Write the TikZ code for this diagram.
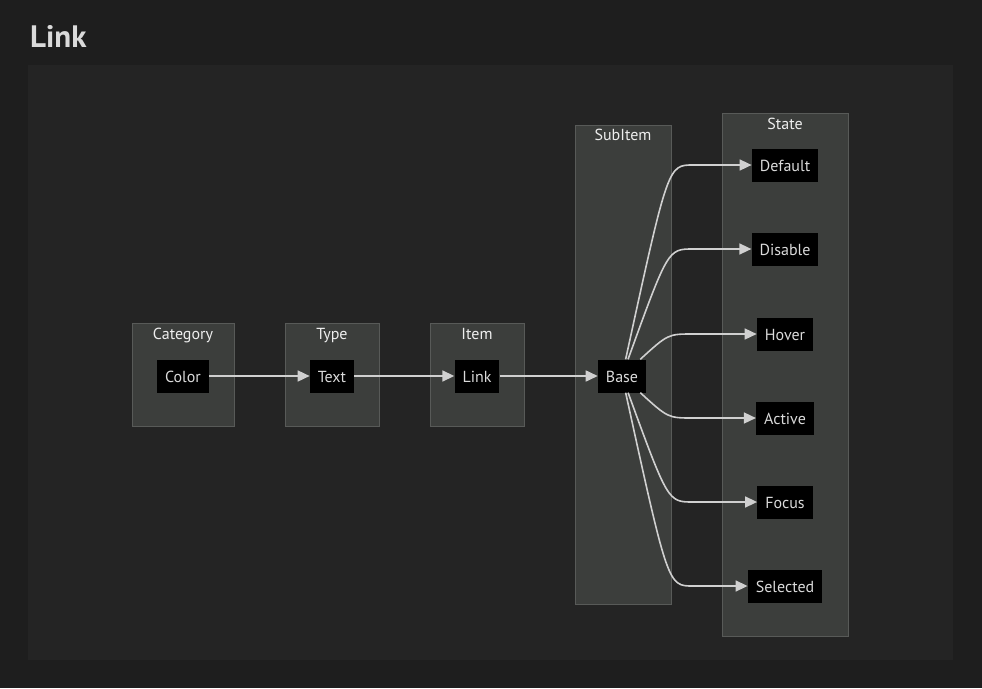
\documentclass[tikz,border=0pt]{standalone}
\usepackage{fontspec}
\setmainfont{PT Sans}
\usetikzlibrary{arrows.meta,positioning}
\definecolor{Page}{HTML}{1E1E1E}
\definecolor{Panel}{HTML}{242424}
\definecolor{Group}{HTML}{3C3E3C}
\definecolor{GroupLine}{HTML}{585A58}
\definecolor{Ink}{HTML}{DADADA}
\definecolor{Head}{HTML}{EEEEEE}
\definecolor{Edge}{HTML}{D0D0D0}

\begin{document}
\begin{tikzpicture}[
  x=1pt,y=-1pt,
  grp/.style={draw=GroupLine,fill=Group,line width=1pt,inner sep=0pt},
  glabel/.style={text=Head,font=\fontsize{16}{19}\selectfont,inner sep=0pt,text height=11pt,text depth=3pt},
  item/.style={fill=black,text=Ink,font=\fontsize{16}{19}\selectfont,inner xsep=8pt,inner ysep=0pt,
    text height=13pt,text depth=0pt,minimum height=33pt},
  arrow/.style={-{Triangle[length=12pt,width=11pt]},line width=1.6pt,color=Edge}
]
  \fill[Page] (0,0) rectangle (982,688);
  \fill[Panel] (28,65) rectangle (953,660);
  \node[anchor=west,text=Ink,font=\fontsize{31}{35}\selectfont\bfseries,inner sep=0pt] (title) at (30,36) {Link};

  \node[grp,minimum width=102pt,minimum height=103pt] (gcat) at (183,374.5) {};
  \node[grp,minimum width=94pt,minimum height=103pt] (gtype) at (332,374.5) {};
  \node[grp,minimum width=94pt,minimum height=103pt] (gitem) at (477,374.5) {};
  \node[grp,minimum width=96pt,minimum height=479pt] (gsub) at (623,364.5) {};
  \node[grp,minimum width=126pt,minimum height=523pt] (gstate) at (785,374.5) {};

  \node[glabel] (lcat) at ([yshift=-12.5pt]gcat.north) {Category};
  \node[glabel] (ltype) at ([yshift=-12.5pt]gtype.north) {Type};
  \node[glabel] (litem) at ([yshift=-12.5pt]gitem.north) {Item};
  \node[glabel] (lsub) at ([yshift=-11.5pt]gsub.north) {SubItem};
  \node[glabel] (lstate) at ([yshift=-12.5pt]gstate.north) {State};

  \node[item] (color) at (183,376) {Color};
  \node[item] (text) at (332,376) {Text};
  \node[item] (link) at (477,376) {Link};
  \node[item] (base) at (622,376) {Base};

  \node[item] (dflt) at (785,165) {Default};
  \node[item] (dis) at (785,249) {Disable};
  \node[item] (hov) at (785,334) {Hover};
  \node[item] (act) at (785,418) {Active};
  \node[item] (foc) at (785,502) {Focus};
  \node[item] (sel) at (785,586) {Selected};

  \coordinate (kdflt) at (693,165);
  \coordinate (kdis) at (693,249);
  \coordinate (khov) at (693,334);
  \coordinate (kact) at (693,418);
  \coordinate (kfoc) at (693,502);
  \coordinate (ksel) at (693,586);

  \draw[arrow] (color) -- (text);
  \draw[arrow] (text) -- (link);
  \draw[arrow] (link) -- (base);
  \draw[arrow] (base) .. controls ([xshift=-25pt]kdflt) .. (kdflt) -- (dflt);
  \draw[arrow] (base) .. controls ([xshift=-25pt]kdis) .. (kdis) -- (dis);
  \draw[arrow] (base) .. controls ([xshift=-25pt]khov) .. (khov) -- (hov);
  \draw[arrow] (base) .. controls ([xshift=-25pt]kact) .. (kact) -- (act);
  \draw[arrow] (base) .. controls ([xshift=-25pt]kfoc) .. (kfoc) -- (foc);
  \draw[arrow] (base) .. controls ([xshift=-25pt]ksel) .. (ksel) -- (sel);
\end{tikzpicture}
\end{document}
